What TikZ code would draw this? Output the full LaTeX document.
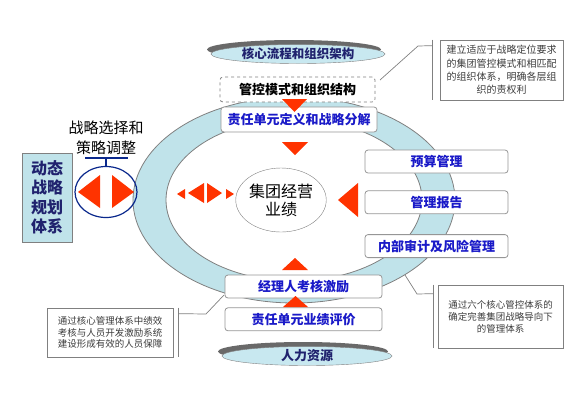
\documentclass[tikz,border=0pt]{standalone}
\usepackage{fontspec}
\setmainfont{Noto Sans CJK SC}
\usetikzlibrary{positioning,calc,shapes.geometric,shadows}
\definecolor{ringblue}{RGB}{192,227,234}
\definecolor{ringline}{RGB}{128,128,128}
\definecolor{boxline}{RGB}{150,150,150}
\definecolor{boxblue}{RGB}{26,26,200}
\definecolor{navyink}{RGB}{32,34,110}
\definecolor{leverblue}{RGB}{10,40,140}
\definecolor{arrowred}{RGB}{255,51,0}
\definecolor{noteink}{RGB}{60,60,60}
\definecolor{tagfill}{RGB}{200,232,240}
\definecolor{tagshade}{RGB}{105,105,105}

\begin{document}
\begin{tikzpicture}[x=1pt, y=-1pt,
  box/.style={draw=boxline, rounded corners=3pt, fill=white, line width=0.8pt,
              minimum height=23pt, inner sep=0pt, text=boxblue,
              font=\fontsize{13}{15}\selectfont\bfseries},
  tag/.style={ellipse, draw=ringline, fill=tagfill, inner sep=0pt, text=navyink,
              font=\fontsize{13}{15}\selectfont\bfseries,
              drop shadow={shadow xshift=-4pt, shadow yshift=4.5pt, fill=tagshade, opacity=1}},
  note/.style={draw=ringline, line width=0.7pt, align=center, text=noteink, inner sep=2pt},
  callline/.style={draw=ringline, line width=0.7pt},
  redtri/.style={fill=arrowred}]
\useasboundingbox (0,0) rectangle (570,400);

% ring
\fill[ringblue, even odd rule] (294,200) ellipse [x radius=161pt, y radius=103pt]
  (294,200) ellipse [x radius=128pt, y radius=81pt];
\draw[ringline, line width=0.8pt] (294,200) ellipse [x radius=161pt, y radius=103pt];
\draw[ringline, line width=0.8pt] (294,200) ellipse [x radius=128pt, y radius=81pt];

% top and bottom tags
\node[tag, minimum width=174pt, minimum height=19pt, font=\fontsize{12.5}{14}\selectfont\bfseries] (core1) at (298,54) {核心流程和组织架构};
\node[tag, minimum width=170pt, minimum height=19pt] (hr) at (307,356) {人力资源};

% boxes on the ring
\node[box, draw=gray, dashed, minimum width=155pt, minimum height=25pt, text=black] (gk) at (297.5,89.5) {管控模式和组织结构};
\node[box, minimum width=156pt, minimum height=25pt] (zr) at (299,119.5) {责任单元定义和战略分解};
\node[box, minimum width=143pt] (ys) at (436.5,161.5) {预算管理};
\node[box, minimum width=143pt, below=17pt of ys] (bg) {管理报告};
\node[box, minimum width=143pt, below=20pt of bg] (sj) {内部审计及风险管理};
\node[box, minimum width=157pt] (jl) at (303.5,286.5) {经理人考核激励};
\node[box, minimum width=157pt, below=9pt of jl] (pj) {责任单元业绩评价};

% centre
\node[ellipse, draw=ringline, fill=white, minimum width=86pt, minimum height=64pt, inner sep=0pt,
      align=center, font=\fontsize{16}{18}\selectfont] (yj) at (281,200) {集团经营\\业绩};

% left side
\node[draw=ringline, fill=ringblue, line width=0.8pt, minimum width=50pt, minimum height=89pt,
      align=center, text=navyink, font=\fontsize{16}{19.5}\selectfont\bfseries] (dt) at (47,197.5)
  {动态\\战略\\规划\\体系};
\node[align=center, font=\fontsize{15}{20}\selectfont] (xz) at (106,138) {战略选择和\\策略调整};
\node[ellipse, draw=leverblue, line width=1.2pt, minimum width=62pt, minimum height=51pt] (lever) at (106,192) {};
\coordinate (tee) at (106,158);
\draw[leverblue, line width=1.2pt] (lever.north) -- (tee);
\draw[leverblue, line width=1.2pt] ($(tee)+(-21,0)$) -- ($(tee)+(22,0)$);

% red arrowheads
\fill[redtri] (78,192) -- (100,175) -- (100,208) -- cycle;
\fill[redtri] (134,192) -- (112,175) -- (112,208) -- cycle;
\fill[redtri] (177,194) -- (185,189) -- (185,199) -- cycle;
\fill[redtri] (188,193) -- (204,183) -- (204,203) -- cycle;
\fill[redtri] (222,193) -- (207,183) -- (207,203) -- cycle;
\fill[redtri] (234,194) -- (226,189) -- (226,199) -- cycle;
\fill[redtri] (282,99) -- (307,99) -- (294.5,112) -- cycle;
\fill[redtri] (282,142) -- (308,142) -- (295,155) -- cycle;
\fill[redtri] (338,200) -- (358,183) -- (358,217) -- cycle;
\fill[redtri] (282,270) -- (308,270) -- (295,258) -- cycle;
\fill[redtri] (283,307) -- (308,307) -- (295.5,296) -- cycle;

% callouts
\node[note, minimum width=123pt, minimum height=60pt,
      font=\fontsize{10}{13.3}\selectfont] (tn) at (501.5,70)
  {建立适应于战略定位要求\\的集团管控模式和相匹配\\的组织体系，明确各层组\\织的责权利};
\node[note, minimum width=125pt, minimum height=63pt,
      font=\fontsize{9.5}{12}\selectfont] (rn) at (500.5,316.5)
  {通过六个核心管控体系的\\确定完善集团战略导向下\\的管理体系};
\node[note, minimum width=126pt, minimum height=49pt,
      font=\fontsize{9.5}{11.7}\selectfont] (ln) at (110,332.5)
  {通过核心管理体系中绩效\\考核与人员开发激励系统\\建设形成有效的人员保障};

\draw[callline] ($(tn.north west)+(-7,0)$) coordinate (tbr) -- ($(tn.south west)+(-7,0)$);
\draw[callline] ($(rn.north west)+(-4,0)$) coordinate (rbr) -- ($(rn.south west)+(-4,0)$);
\draw[callline] ($(ln.north east)+(5,0)$) coordinate (lbr) -- ($(ln.south east)+(5,0)$);

\coordinate (tfoot) at (380,80);
\coordinate (rfoot) at (405,275);
\coordinate (lfoot) at (224,295);
\draw[callline] (tfoot) -- (418,46) -- ($(tbr)+(0,6)$);
\draw[callline] (rfoot) -- (417,294) -- ($(rbr)+(0,9)$);
\draw[callline] (lfoot) -- (206,314) -- ($(lbr)+(0,6)$);
\end{tikzpicture}
\end{document}
